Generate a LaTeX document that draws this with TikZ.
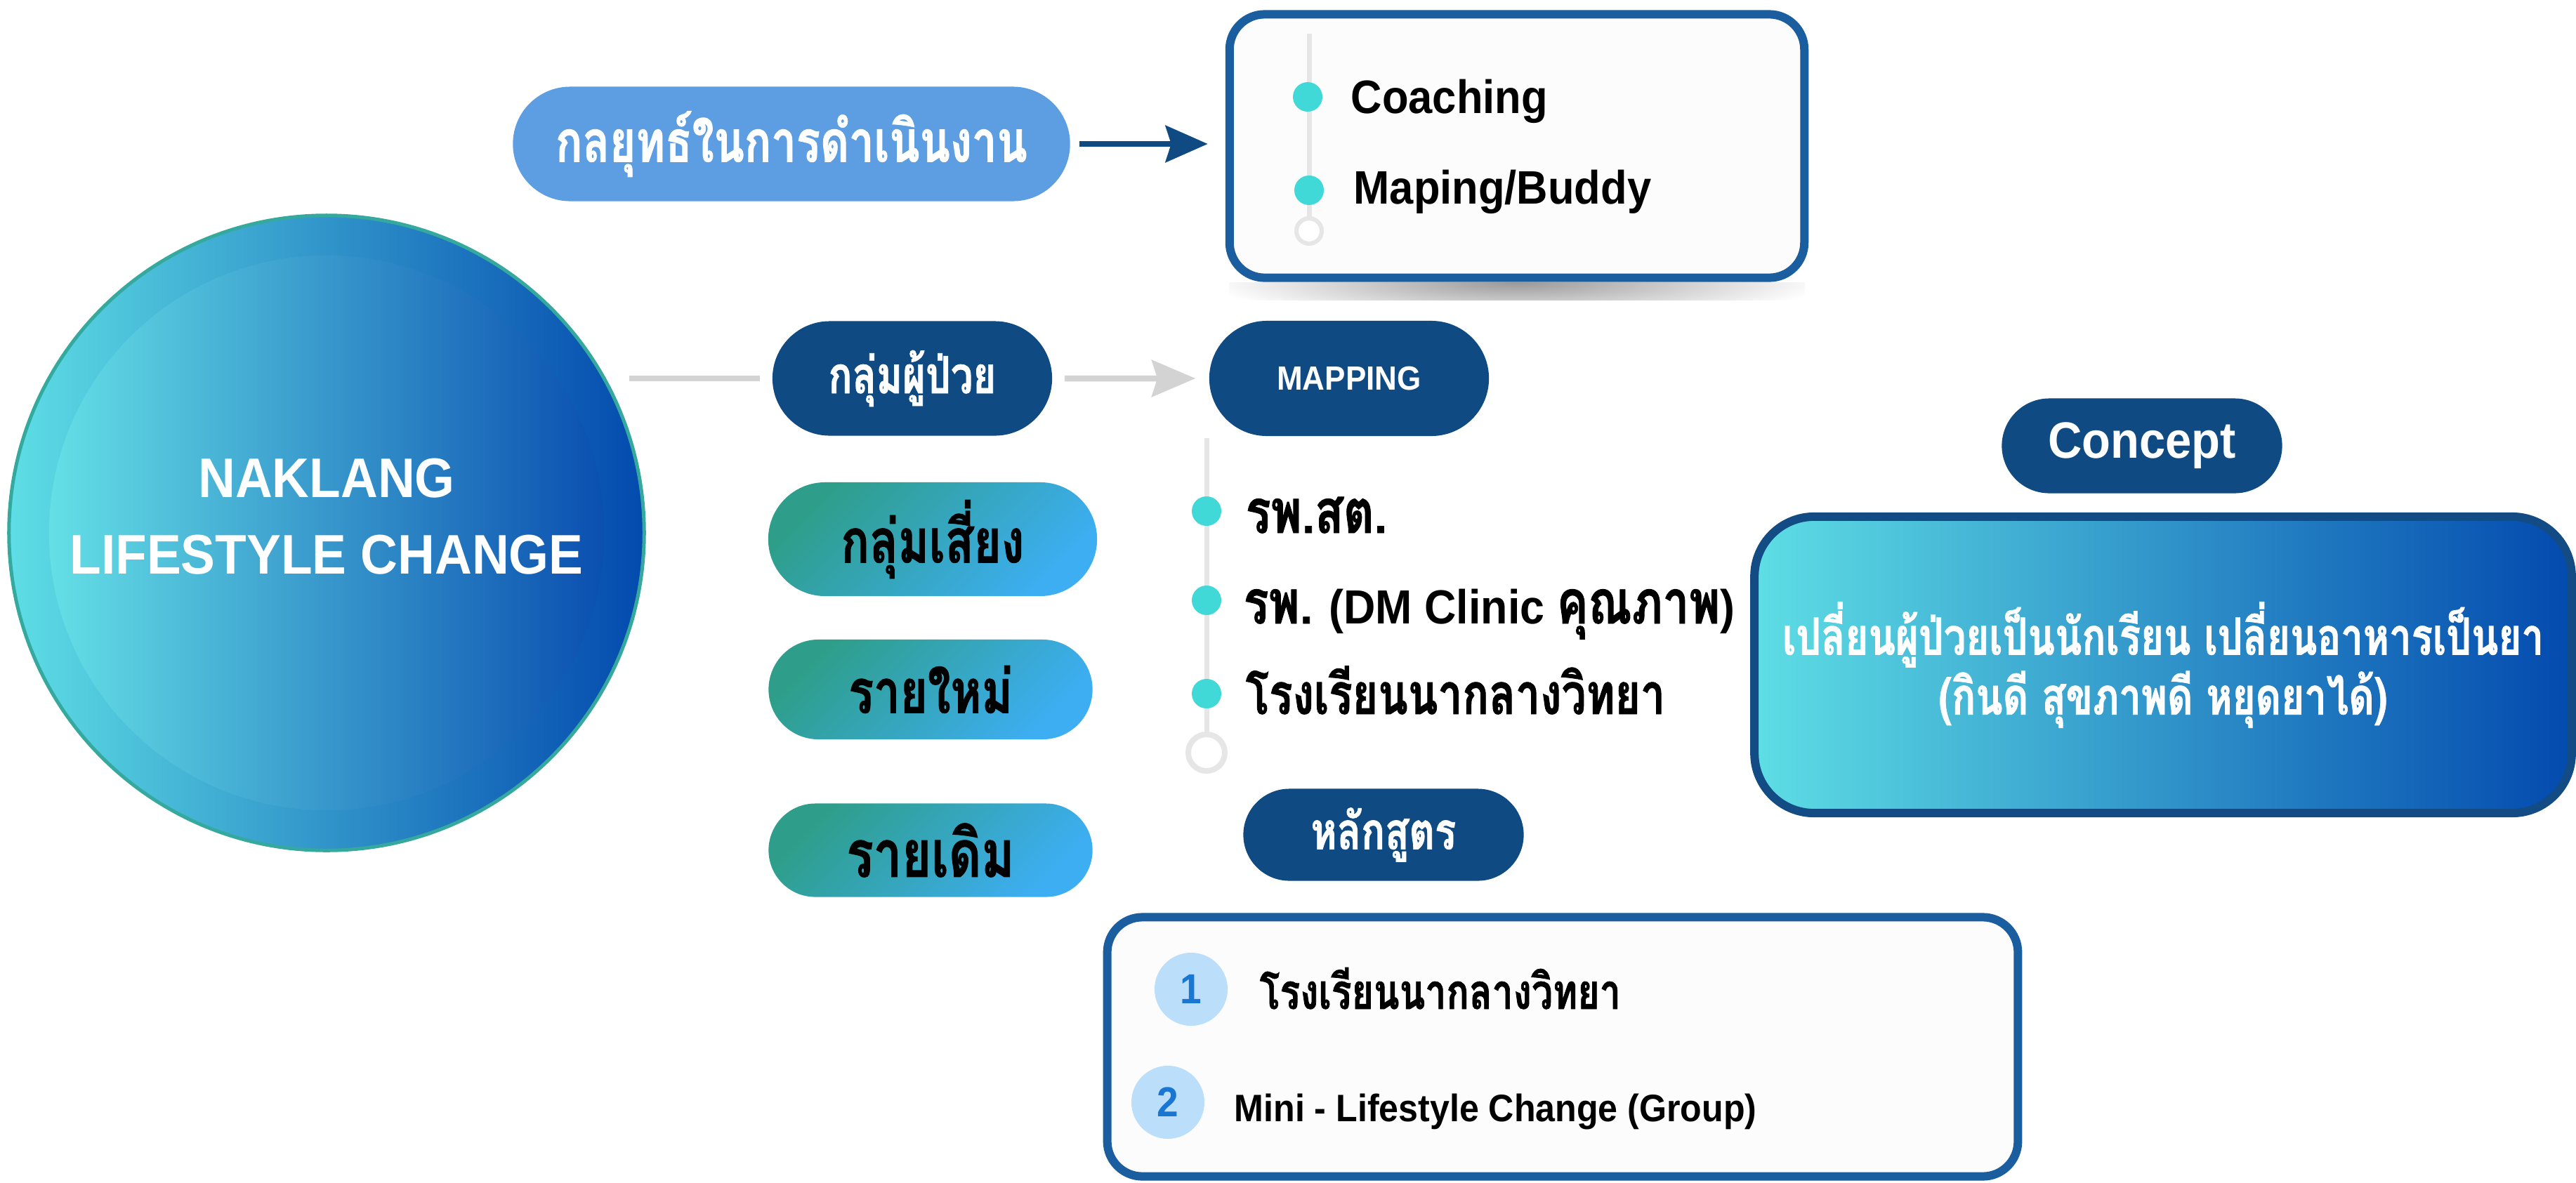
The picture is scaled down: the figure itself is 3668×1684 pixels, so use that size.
\documentclass[tikz,border=0pt]{standalone}
\usepackage{fontspec}
\setmainfont{Liberation Sans}[FakeStretch=0.92]
\newfontfamily\thai[Script=Thai, FakeStretch=0.77, BoldFeatures={FakeBold=1}]{Loma}
\usetikzlibrary{shapes.misc,arrows.meta}

\definecolor{navy}{HTML}{0F4A82}
\definecolor{skyblue}{HTML}{5D9EE3}
\definecolor{frameblue}{HTML}{1A5E9F}
\definecolor{pillteal}{HTML}{2E9E8A}
\definecolor{pilllight}{HTML}{3DAEF2}
\definecolor{turq}{HTML}{40D9D8}
\definecolor{railgrey}{HTML}{E6E6E6}
\definecolor{linkgrey}{HTML}{D3D3D3}
\definecolor{cyanlight}{HTML}{5EDEE5}
\definecolor{midblue}{HTML}{3A9ECF}
\definecolor{bluedeep}{HTML}{034AAE}
\definecolor{ringteal}{HTML}{36A99E}
\definecolor{numbg}{HTML}{BBDEFB}
\definecolor{numfg}{HTML}{1976D2}
\definecolor{conceptedge}{HTML}{134C85}
\definecolor{paper}{HTML}{FCFCFC}

\newcommand{\thaifont}[1]{\thai\bfseries\fontsize{#1}{#1}\selectfont}
\newcommand{\latinfont}[1]{\bfseries\fontsize{#1}{#1}\selectfont}

\begin{document}
\begin{tikzpicture}[x=0.01cm, y=-0.01cm,
  navypill/.style={rounded rectangle, fill=navy, text=white, inner sep=0pt},
  greenpill/.style={rounded rectangle, left color=pillteal, right color=pilllight, shading angle=45, text=black, inner sep=0pt, font=\thaifont{24.7pt}},
  framebox/.style={rectangle, rounded corners=0.5cm, draw=frameblue, line width=0.12cm, fill=paper},
  dot/.style={circle, fill=turq, minimum size=0.42cm, inner sep=0pt},
  ring/.style={circle, draw=railgrey, fill=white, inner sep=0pt},
  rail/.style={draw=railgrey, line width=0.07cm},
  itemtext/.style={anchor=base west, inner sep=0pt, text=black},
  numdot/.style={circle, fill=numbg, text=numfg, minimum size=1.04cm, inner sep=0pt, font=\latinfont{17pt}},
  greyline/.style={draw=linkgrey, line width=0.085cm},
  greyarrow/.style={greyline, -{Stealth[length=0.62cm, width=0.52cm, inset=0.08cm]}},
  navyarrow/.style={draw=navy, line width=0.085cm, -{Stealth[length=0.6cm, width=0.52cm, inset=0.08cm]}}
]
\useasboundingbox (0,0) rectangle (3668,1684);
\fill [white] (0,0) rectangle (3668,1684);

% main circle
\node (naklang) at (465,759) [circle, minimum size=9.04cm, draw=ringteal, line width=0.05cm, left color=cyanlight, middle color=midblue, right color=bluedeep] {};
\node (core) at (465,759) [circle, minimum size=7.9cm, left color=cyanlight!96!white, middle color=midblue!98!white, right color=bluedeep!97!white] {};
\node (title) at (465,736) [text=white, align=center, font=\bfseries\fontsize{22.6pt}{31pt}\selectfont] {NAKLANG\\LIFESTYLE CHANGE};

% strategy row
\node (strategy) at (1127,205) [navypill, fill=skyblue, minimum width=7.93cm, minimum height=1.63cm, font=\thaifont{23.4pt}] {กลยุทธ์ในการดำเนินงาน};
\begin{scope}
\clip (1750,402) rectangle (2570,427);
\shade [inner color=black!40, outer color=white] (2160,402) ellipse [x radius=440, y radius=55];
\end{scope}
\node (tactics) at (2160,208) [framebox, minimum width=8.18cm, minimum height=3.75cm] {};
\coordinate (tacticstop) at (1864,48);
\coordinate (tacticsend) at (1864,329);
\draw [rail] (tacticstop) -- (tacticsend);
\node (tacticsring) at (tacticsend) [ring, minimum size=0.36cm, line width=0.06cm] {};
\node (coachdot) at (1862,138) [dot] {};
\node (buddydot) at (1864,271) [dot] {};
\node (coach) at (1923,161) [itemtext, font=\latinfont{19pt}] {Coaching};
\node (buddy) at (1927,290) [itemtext, font=\latinfont{19pt}] {Maping/Buddy};
\draw [navyarrow, shorten <=0.13cm, shorten >=0.25cm] (strategy.east) -- (strategy.east -| tactics.west);

% patient row
\node (patient) at (1299,539) [navypill, minimum width=3.98cm, minimum height=1.63cm, font=\thaifont{20.8pt}] {กลุ่มผู้ป่วย};
\node (mapping) at (1921,539) [navypill, minimum width=3.98cm, minimum height=1.64cm, font=\latinfont{13.6pt}] {MAPPING};
\draw [greyline, shorten <=-0.24cm, shorten >=0.17cm] (naklang.east |- patient.west) -- (patient.west);
\draw [greyarrow, shorten <=0.17cm, shorten >=0.19cm] (patient) -- (mapping);

% groups
\node (risk) at (1328,768) [greenpill, minimum width=4.68cm, minimum height=1.62cm] {กลุ่มเสี่ยง};
\node (newcase) at (1325,982) [greenpill, minimum width=4.61cm, minimum height=1.42cm] {รายใหม่};
\node (oldcase) at (1325,1211) [greenpill, minimum width=4.61cm, minimum height=1.33cm, font=\thaifont{26.5pt}] {รายเดิม};

% mapping list
\coordinate (maptop) at (1718,624);
\coordinate (mapend) at (1718,1072);
\draw [rail] (maptop) -- (mapend);
\node (mapring) at (mapend) [ring, minimum size=0.52cm, line width=0.08cm] {};
\node (pcudot) at (1718,728) [dot] {};
\node (hospdot) at (1718,855) [dot] {};
\node (schooldot) at (1718,988) [dot] {};
\node (pcu) at (1773,759) [itemtext, font=\thaifont{24.7pt}] {รพ.สต.};
\node (hosp) at (1770,888) [itemtext, font=\latinfont{19.4pt}] {{\thaifont{24.7pt}รพ.} (DM Clinic {\thaifont{24.7pt}คุณภาพ})};
\node (school) at (1773,1017) [itemtext, font=\thaifont{23pt}] {โรงเรียนนากลางวิทยา};

% course
\node (course) at (1970,1189) [navypill, minimum width=3.99cm, minimum height=1.31cm, font=\thaifont{20.8pt}] {หลักสูตร};
\node (courses) at (2225,1491) [framebox, minimum width=12.96cm, minimum height=3.69cm] {};
\node (numone) at (1696,1409) [numdot] {1};
\node (numtwo) at (1663,1570) [numdot] {2};
\node (courseone) at (1793,1437) [itemtext, font=\thaifont{19.8pt}] {โรงเรียนนากลางวิทยา};
\node (coursetwo) at (1757,1597) [itemtext, font=\latinfont{15.5pt}] {Mini - Lifestyle Change (Group)};

% concept
\node (concept) at (3050,635) [navypill, minimum width=3.99cm, minimum height=1.35cm, font=\latinfont{20.7pt}] {Concept};
\node (idea) at (3080,947) [rectangle, rounded corners=0.85cm, draw=conceptedge, line width=0.12cm, left color=cyanlight, right color=bluedeep, minimum width=11.63cm, minimum height=4.22cm, text=white, align=center, font=\thai\bfseries\fontsize{20.8pt}{24.2pt}\selectfont] {เปลี่ยนผู้ป่วยเป็นนักเรียน เปลี่ยนอาหารเป็นยา\\(กินดี สุขภาพดี หยุดยาได้)};
\end{tikzpicture}
\end{document}
